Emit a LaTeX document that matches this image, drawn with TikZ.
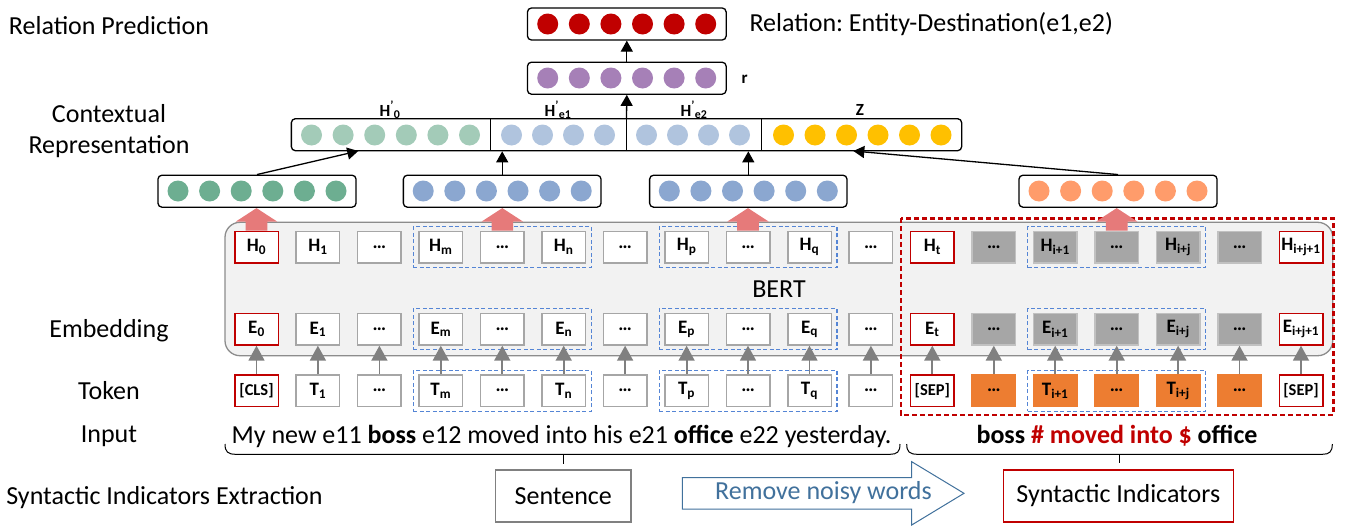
\documentclass[tikz,border=0pt]{standalone}
\usepackage{fontspec}
\setmainfont{Carlito}
\usetikzlibrary{arrows.meta,fit}
\frenchspacing

\definecolor{relred}{HTML}{C00000}
\definecolor{relpurple}{HTML}{A680B7}
\definecolor{ctxgreen}{HTML}{A3CBB8}
\definecolor{ctxblue}{HTML}{B0C4DE}
\definecolor{ctxgold}{HTML}{FFC000}
\definecolor{encgreen}{HTML}{6DAE91}
\definecolor{encblue}{HTML}{8BA7D0}
\definecolor{encorange}{HTML}{FF9C6B}
\definecolor{tokorange}{HTML}{ED7D31}
\definecolor{cellgray}{HTML}{A6A6A6}
\definecolor{bertgray}{HTML}{F2F2F2}
\definecolor{groupblue}{HTML}{5585D5}
\definecolor{fatred}{HTML}{E67A7A}
\definecolor{noiseblue}{HTML}{41719C}

\begin{document}
\begin{tikzpicture}[x=1pt,y=-1pt]
\tikzset{
    vec/.style={draw=black, line width=1.3pt, rounded corners=4pt, inner sep=0pt, minimum height=32pt},
    cell/.style={draw=cellgray, line width=1.5pt, fill=white, inner sep=0pt,
        minimum width=43.5pt, minimum height=31.5pt, font=\bfseries\fontsize{19}{19}\selectfont},
    cellR/.style={cell, draw=relred},
    cellG/.style={cell, fill=cellgray, draw=cellgray!70},
    cellO/.style={cell, fill=tokorange, draw=tokorange},
    sep/.style={font=\bfseries\fontsize{16.5}{16.5}\selectfont},
    group/.style={draw=groupblue, line width=1.2pt, dash pattern=on 4pt off 2.5pt, inner xsep=5pt, inner ysep=4pt},
    up/.style={-{Triangle[length=11pt,width=12pt]}, line width=1.3pt},
    tokup/.style={draw=black!50, line width=1.8pt, -{Triangle[length=15pt,width=16pt]}},
    fat/.style={fill=fatred},
    lab/.style={font=\fontsize{26}{31}\selectfont, align=center},
    hlab/.style={font=\bfseries\fontsize{17}{17}\selectfont}}
\def\rdot{10.5pt}
\def\yh{247}
\def\ye{329.2}
\def\yt{390.7}

\useasboundingbox (0,0) rectangle (1346,525);

\node[lab] (lpred) at (109,26) {Relation Prediction};
\node[lab] (lctx) at (109,131) {Contextual\\Representation};
\node[lab] (lemb) at (109,331) {Embedding};
\node[lab] (ltok) at (109,391) {Token};
\node[lab] (linp) at (109,436) {Input};
\node[lab] (lsie) at (164.5,497.7) {Syntactic Indicators Extraction};
\node[lab, anchor=west] (lrel) at (746,24) {Relation: Entity-Destination(e1,e2)};

\node[vec, minimum width=198.7pt] (vred) at (626.8,24) {};
\node[vec, minimum width=198.7pt] (vr) at (626.8,78.2) {};
\node[vec, minimum width=670.3pt] (vcat) at (626.5,134.7) {};
\node[vec, minimum width=198.1pt] (vgreen) at (257,191.2) {};
\node[vec, minimum width=197.7pt] (venta) at (502.2,191.2) {};
\node[vec, minimum width=197.4pt] (ventb) at (748.3,191.2) {};
\node[vec, minimum width=198.1pt] (vind) at (1118,191.2) {};
\node[hlab, anchor=west] (lr) at (738,79) {r};

\draw[line width=1.3pt] (490.7,118.3) -- (490.7,151);
\draw[line width=1.3pt] (626.2,118.3) -- (626.2,151);
\draw[line width=1.3pt] (761.7,118.3) -- (761.7,151);
\node[hlab] (lhzero) at (390,110) {H\textsuperscript{'}\textsubscript{0}};
\node[hlab] (lheone) at (558,110) {H\textsuperscript{'}\textsubscript{e1}};
\node[hlab] (lhetwo) at (694,110) {H\textsuperscript{'}\textsubscript{e2}};
\node[hlab] (lz) at (860,110) {Z};

\fill[relred] (547.7,24)circle(\rdot) (579.3,24)circle(\rdot) (610.9,24)circle(\rdot) (642.5,24)circle(\rdot) (674.1,24)circle(\rdot) (705.7,24)circle(\rdot);
\fill[relpurple] (547.7,78)circle(\rdot) (579.3,78)circle(\rdot) (610.9,78)circle(\rdot) (642.5,78)circle(\rdot) (674.1,78)circle(\rdot) (705.7,78)circle(\rdot);
\fill[ctxgreen] (311.5,135)circle(\rdot) (343.1,135)circle(\rdot) (374.7,135)circle(\rdot) (406.3,135)circle(\rdot) (437.9,135)circle(\rdot) (469.5,135)circle(\rdot);
\fill[ctxblue] (511.5,135)circle(\rdot) (542.5,135)circle(\rdot) (573.5,135)circle(\rdot) (604.5,135)circle(\rdot);
\fill[ctxblue] (646.5,135)circle(\rdot) (677.5,135)circle(\rdot) (708.5,135)circle(\rdot) (739.5,135)circle(\rdot);
\fill[ctxgold] (783.5,135)circle(\rdot) (815,135)circle(\rdot) (846.5,135)circle(\rdot) (878,135)circle(\rdot) (909.5,135)circle(\rdot) (941,135)circle(\rdot);
\fill[encgreen] (178,191)circle(\rdot) (209.6,191)circle(\rdot) (241.2,191)circle(\rdot) (272.8,191)circle(\rdot) (304.4,191)circle(\rdot) (336,191)circle(\rdot);
\fill[encblue] (423.2,191)circle(\rdot) (454.8,191)circle(\rdot) (486.4,191)circle(\rdot) (518,191)circle(\rdot) (549.6,191)circle(\rdot) (581.2,191)circle(\rdot);
\fill[encblue] (669.3,191)circle(\rdot) (700.9,191)circle(\rdot) (732.5,191)circle(\rdot) (764.1,191)circle(\rdot) (795.7,191)circle(\rdot) (827.3,191)circle(\rdot);
\fill[encorange] (1039,191)circle(\rdot) (1070.6,191)circle(\rdot) (1102.2,191)circle(\rdot) (1133.8,191)circle(\rdot) (1165.4,191)circle(\rdot) (1197,191)circle(\rdot);

\coordinate (cinzero) at (358.3,151);
\coordinate (cinz) at (853.3,151);
\draw[up] (vr.north) -- (vred.south);
\draw[up] (vcat.north) -- (vr.south);
\draw[up] (vgreen.north) -- (cinzero);
\draw[up] (venta.north) -- (venta.north |- vcat.south);
\draw[up] (ventb.north) -- (ventb.north |- vcat.south);
\draw[up] (vind.north) -- (cinz);

\draw[fill=bertgray, draw=black!45, line width=1.3pt, rounded corners=15pt] (225,222.3) rectangle (1332.7,355.7);
\node[lab] (lbert) at (779,289) {BERT};
\draw[relred, line width=2.5pt, dash pattern=on 5pt off 3pt] (901,218.3) rectangle (1333.3,415);

\node[cellR] (h0) at (256.5,\yh) {H\textsubscript{0}};
\node[cell] (h1) at (317.9,\yh) {H\textsubscript{1}};
\node[cell] (h2) at (379.4,\yh) {…};
\node[cell] (h3) at (440.8,\yh) {H\textsubscript{m}};
\node[cell] (h4) at (502.3,\yh) {…};
\node[cell] (h5) at (563.7,\yh) {H\textsubscript{n}};
\node[cell] (h6) at (625.1,\yh) {…};
\node[cell] (h7) at (686.6,\yh) {H\textsubscript{p}};
\node[cell] (h8) at (748.0,\yh) {…};
\node[cell] (h9) at (809.5,\yh) {H\textsubscript{q}};
\node[cell] (h10) at (870.9,\yh) {…};
\node[cellR] (h11) at (932.3,\yh) {H\textsubscript{t}};
\node[cellG] (h12) at (993.8,\yh) {…};
\node[cellG] (h13) at (1055.2,\yh) {H\textsubscript{i+1}};
\node[cellG] (h14) at (1116.7,\yh) {…};
\node[cellG] (h15) at (1178.1,\yh) {H\textsubscript{i+j}};
\node[cellG] (h16) at (1239.5,\yh) {…};
\node[cellR] (h17) at (1301.0,\yh) {H\textsubscript{i+j+1}};

\node[cellR] (e0) at (256.5,\ye) {E\textsubscript{0}};
\node[cell] (e1) at (317.9,\ye) {E\textsubscript{1}};
\node[cell] (e2) at (379.4,\ye) {…};
\node[cell] (e3) at (440.8,\ye) {E\textsubscript{m}};
\node[cell] (e4) at (502.3,\ye) {…};
\node[cell] (e5) at (563.7,\ye) {E\textsubscript{n}};
\node[cell] (e6) at (625.1,\ye) {…};
\node[cell] (e7) at (686.6,\ye) {E\textsubscript{p}};
\node[cell] (e8) at (748.0,\ye) {…};
\node[cell] (e9) at (809.5,\ye) {E\textsubscript{q}};
\node[cell] (e10) at (870.9,\ye) {…};
\node[cellR] (e11) at (932.3,\ye) {E\textsubscript{t}};
\node[cellG] (e12) at (993.8,\ye) {…};
\node[cellG] (e13) at (1055.2,\ye) {E\textsubscript{i+1}};
\node[cellG] (e14) at (1116.7,\ye) {…};
\node[cellG] (e15) at (1178.1,\ye) {E\textsubscript{i+j}};
\node[cellG] (e16) at (1239.5,\ye) {…};
\node[cellR] (e17) at (1301.0,\ye) {E\textsubscript{i+j+1}};

\node[cellR, sep] (t0) at (256.5,\yt) {[CLS]};
\node[cell] (t1) at (317.9,\yt) {T\textsubscript{1}};
\node[cell] (t2) at (379.4,\yt) {…};
\node[cell] (t3) at (440.8,\yt) {T\textsubscript{m}};
\node[cell] (t4) at (502.3,\yt) {…};
\node[cell] (t5) at (563.7,\yt) {T\textsubscript{n}};
\node[cell] (t6) at (625.1,\yt) {…};
\node[cell] (t7) at (686.6,\yt) {T\textsubscript{p}};
\node[cell] (t8) at (748.0,\yt) {…};
\node[cell] (t9) at (809.5,\yt) {T\textsubscript{q}};
\node[cell] (t10) at (870.9,\yt) {…};
\node[cellR, sep] (t11) at (932.3,\yt) {[SEP]};
\node[cellO] (t12) at (993.8,\yt) {…};
\node[cellO] (t13) at (1055.2,\yt) {T\textsubscript{i+1}};
\node[cellO] (t14) at (1116.7,\yt) {…};
\node[cellO] (t15) at (1178.1,\yt) {T\textsubscript{i+j}};
\node[cellO] (t16) at (1239.5,\yt) {…};
\node[cellR, sep] (t17) at (1301.0,\yt) {[SEP]};

\node[group, fit=(h3)(h5)] (gha) {};
\node[group, fit=(h7)(h9)] (ghb) {};
\node[group, fit=(h13)(h15)] (ghc) {};
\node[group, fit=(e3)(e5)] (gea) {};
\node[group, fit=(e7)(e9)] (geb) {};
\node[group, fit=(e13)(e15)] (gec) {};
\node[group, fit=(t3)(t5)] (gta) {};
\node[group, fit=(t7)(t9)] (gtb) {};
\node[group, fit=(t13)(t15)] (gtc) {};

\fill[fat] (h0.north) ++(-10.8,0) -- ++(0,-9) -- ++(-9.8,0) -- ++(20.6,-13.4) -- ++(20.6,13.4) -- ++(-9.8,0) -- ++(0,9) -- cycle;
\fill[fat] (h4.north) ++(-10.8,0) -- ++(0,-9) -- ++(-9.8,0) -- ++(20.6,-13.4) -- ++(20.6,13.4) -- ++(-9.8,0) -- ++(0,9) -- cycle;
\fill[fat] (h8.north) ++(-10.8,0) -- ++(0,-9) -- ++(-9.8,0) -- ++(20.6,-13.4) -- ++(20.6,13.4) -- ++(-9.8,0) -- ++(0,9) -- cycle;
\fill[fat] (h14.north) ++(-10.8,0) -- ++(0,-9) -- ++(-9.8,0) -- ++(20.6,-13.4) -- ++(20.6,13.4) -- ++(-9.8,0) -- ++(0,9) -- cycle;

\draw[tokup] (t0.north) -- (e0.south);
\draw[tokup] (t1.north) -- (e1.south);
\draw[tokup] (t2.north) -- (e2.south);
\draw[tokup] (t3.north) -- (e3.south);
\draw[tokup] (t4.north) -- (e4.south);
\draw[tokup] (t5.north) -- (e5.south);
\draw[tokup] (t6.north) -- (e6.south);
\draw[tokup] (t7.north) -- (e7.south);
\draw[tokup] (t8.north) -- (e8.south);
\draw[tokup] (t9.north) -- (e9.south);
\draw[tokup] (t10.north) -- (e10.south);
\draw[tokup] (t11.north) -- (e11.south);
\draw[tokup] (t12.north) -- (e12.south);
\draw[tokup] (t13.north) -- (e13.south);
\draw[tokup] (t14.north) -- (e14.south);
\draw[tokup] (t15.north) -- (e15.south);
\draw[tokup] (t16.north) -- (e16.south);
\draw[tokup] (t17.north) -- (e17.south);

\node[lab] (sent) at (561.5,436) {My new e11 \textbf{boss} e12 moved into his e21 \textbf{office} e22 yesterday.};
\node[lab, font=\bfseries\fontsize{26}{31}\selectfont] (synt) at (1117,436) {boss \textcolor{relred}{\# moved into \$} office};
\draw[line width=1pt] (225,444) .. controls (225,452) and (228,454.3) .. (236,454.3) -- (890,454.3) .. controls (897,454.3) and (900,452) .. (900,444);
\draw[line width=1pt] (563.3,454.3) -- (563.3,464);
\draw[line width=1pt] (906.7,444) .. controls (906.7,452) and (909.7,454.3) .. (917.7,454.3) -- (1322.3,454.3) .. controls (1329.3,454.3) and (1332.3,452) .. (1332.3,444);
\draw[line width=1pt] (1119.3,454.3) -- (1119.3,463.3);

\node[lab, draw=black!50, line width=1.3pt, minimum width=135.4pt, minimum height=52pt] (sbox) at (563.3,496) {Sentence};
\node[lab, draw=relred, line width=1.3pt, minimum width=230pt, minimum height=52pt] (ibox) at (1118.3,496) {Syntactic Indicators};
\draw[noiseblue, line width=1pt, fill=white] (682.3,477.7) -- (911.7,477.7) -- (911.7,461.7) -- (964,493.3) -- (911.7,525) -- (911.7,509) -- (682.3,509) -- cycle;
\node[lab, text=noiseblue] (lnoise) at (823.5,493) {Remove noisy words};

\end{tikzpicture}
\end{document}
